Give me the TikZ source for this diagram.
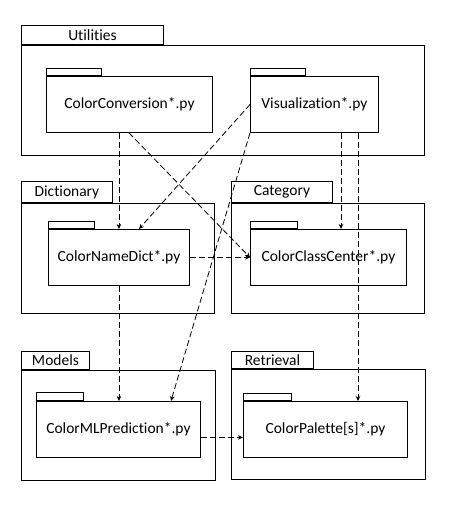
\documentclass[tikz,border=0pt]{standalone}
\usepackage{fontspec}
\setmainfont{Carlito}[Ligatures={NoCommon}]
\usetikzlibrary{arrows.meta,calc}
\begin{document}
\begin{tikzpicture}[x=1pt,y=-1pt,
  pkg/.style={draw, line width=0.9pt, inner sep=0pt, anchor=north west, font=\fontsize{15.5}{18}\selectfont},
  tabbox/.style={pkg, anchor=south west},
  dep/.style={line width=0.8pt, dash pattern=on 6pt off 3pt, -{Stealth[length=5pt,width=4.5pt]}}]
\useasboundingbox (0,0) rectangle (457,510);
% outer packages
\node[pkg, minimum width=403pt, minimum height=110pt] (util) at (21,45) {};
\node[tabbox, minimum width=142pt, minimum height=19pt] (utiltab) at (util.north west) {Utilities};
\node[pkg, minimum width=193pt, minimum height=110pt] (dict) at (21,203) {};
\node[tabbox, minimum width=91pt, minimum height=21pt] (dicttab) at (dict.north west) {Dictionary};
\node[pkg, minimum width=193pt, minimum height=110pt] (cat) at (231,203) {};
\node[tabbox, minimum width=101pt, minimum height=21pt] (cattab) at (cat.north west) {Category};
\node[pkg, minimum width=194pt, minimum height=110pt] (models) at (21,370) {};
\node[tabbox, minimum width=68pt, minimum height=18pt] (modelstab) at (models.north west) {Models};
\node[pkg, minimum width=194pt, minimum height=110pt] (retr) at (231,369) {};
\node[tabbox, minimum width=82pt, minimum height=17pt] (retrtab) at (retr.north west) {Retrieval};
% modules
\node[pkg, minimum width=166pt, minimum height=56pt] (conv) at (46,76) {ColorConversion*.py};
\node[tabbox, minimum width=55pt, minimum height=7pt] (convtab) at (conv.north west) {};
\node[pkg, minimum width=128pt, minimum height=56pt] (vis) at (250,76) {Visualization*.py};
\node[tabbox, minimum width=55pt, minimum height=7pt] (vistab) at (vis.north west) {};
\node[pkg, minimum width=141pt, minimum height=56pt] (nd) at (48,229) {ColorNameDict*.py};
\node[tabbox, minimum width=46pt, minimum height=7pt] (ndtab) at (nd.north west) {};
\node[pkg, minimum width=156pt, minimum height=56pt] (ccc) at (250,229) {ColorClassCenter*.py};
\node[tabbox, minimum width=47pt, minimum height=7pt] (ccctab) at (ccc.north west) {};
\node[pkg, minimum width=164pt, minimum height=56pt] (mlp) at (36,401) {ColorMLPrediction*.py};
\node[tabbox, minimum width=47pt, minimum height=8pt] (mlptab) at (mlp.north west) {};
\node[pkg, minimum width=164pt, minimum height=56pt] (pal) at (243,401) {ColorPalette[s]*.py};
\node[tabbox, minimum width=48pt, minimum height=7pt] (paltab) at (pal.north west) {};
% connector end points
\coordinate (v1) at ($(vis.south west)+(91,0)$);
\coordinate (v2) at ($(vis.south west)+(108,0)$);
\coordinate (ndin) at ($(nd.north west)+(91,0)$);
\coordinate (mlpin) at ($(mlp.north west)+(135,0)$);
\coordinate (mlpout) at ($(mlp.east)+(0,8)$);
% dependencies
\draw[dep] (conv.south -| nd.north) -- (nd.north);
\draw[dep] ($(conv.south west)+(83,0)$) -- (ccc.west);
\draw[dep] (vis.west) -- (ndin);
\draw[dep] (vis.south west) -- (mlpin);
\draw[dep] (v1) -- (v1 |- ccc.north);
\draw[dep] (v2) -- (v2 |- pal.north);
\draw[dep] (nd.east) -- (ccc.west);
\draw[dep] (nd.south) -- (nd.south |- mlp.north);
\draw[dep] (mlpout) -- (mlpout -| pal.west);
\end{tikzpicture}
\end{document}
